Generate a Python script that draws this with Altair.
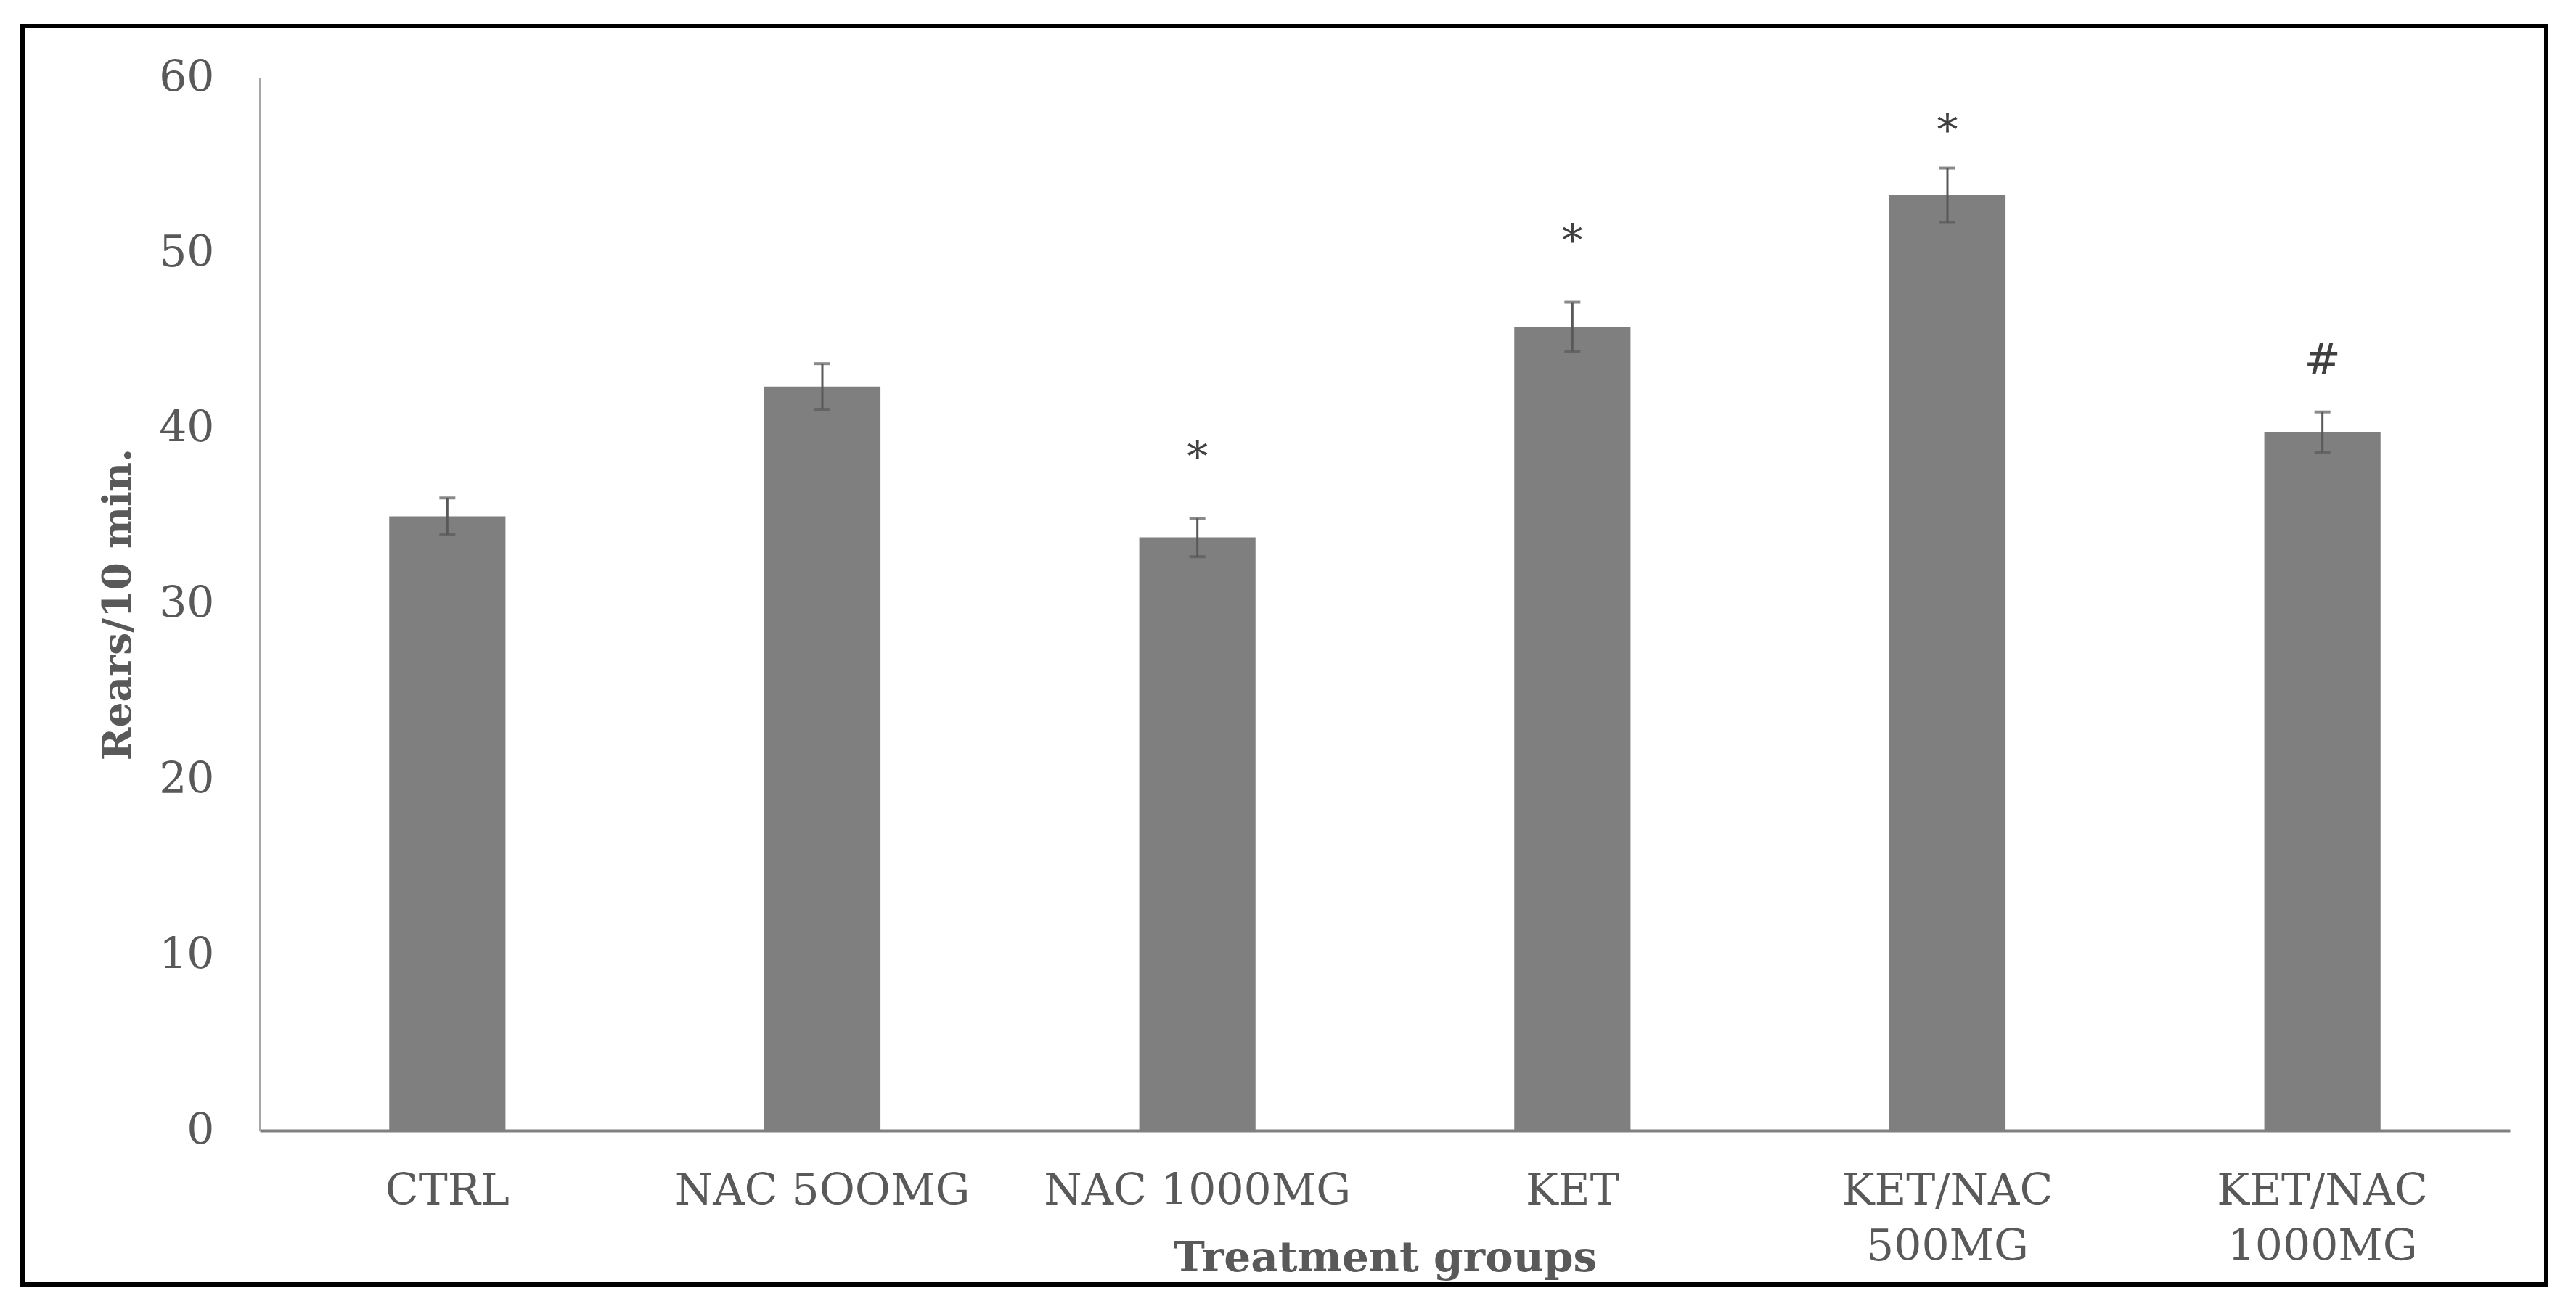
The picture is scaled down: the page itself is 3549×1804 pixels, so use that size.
import altair as alt
import pandas as pd

groups = ["CTRL", "NAC 5OOMG", "NAC 1000MG", "KET", "KET/NAC 500MG", "KET/NAC 1000MG"]
means = [35.0, 42.4, 33.8, 45.8, 53.3, 39.8]
errors = [1.05, 1.3, 1.1, 1.4, 1.55, 1.15]
sig_marks = ["", "", "*", "*", "*", "#"]
sig_pos = [None, None, 39.0, 51.3, 57.6, 44.0]
y_ticks = [0, 10, 20, 30, 40, 50, 60]

df = pd.DataFrame({"group": groups, "mean": means, "err": errors,
                   "sig": sig_marks, "sig_y": sig_pos})
df["lo"] = df["mean"] - df["err"]
df["hi"] = df["mean"] + df["err"]

W, H = 3100, 1451
FONT = "DejaVu Serif"
GRAY = "#595959"

xscale = alt.Scale(domain=groups, paddingInner=0.69, paddingOuter=0.345)
yscale = alt.Scale(domain=[0, 60], nice=False, zero=True)

x_axis = alt.Axis(
    title="Treatment groups", labelAngle=0, labelFont=FONT, labelFontSize=60,
    labelColor=GRAY, labelPadding=54, labelBaseline="top", labelLineHeight=77,
    labelLimit=2000, labelOverlap=False,
    labelExpr="indexof(datum.label, 'KET/NAC ') == 0 ? split(datum.label, ' ') : datum.label",
    ticks=False, tickSize=0, domainColor="#808080", domainWidth=4,
    titleFont=FONT, titleFontWeight="bold", titleFontSize=58, titleColor=GRAY,
    titleBaseline="alphabetic", titleY=193, titleX=W / 2, titleAlign="center",
)
y_axis = alt.Axis(
    title="Rears/10 min.", values=y_ticks, grid=False, ticks=False, tickSize=0,
    labelFont=FONT, labelFontSize=60, labelColor=GRAY, labelPadding=63,
    domainColor="#a6a6a6", domainWidth=3,
    titleFont=FONT, titleFontWeight="bold", titleFontSize=55, titleColor=GRAY,
    titleAngle=270, titleX=-196, titleY=H / 2, titleBaseline="middle", titleAlign="center",
)

base = alt.Chart(df)

bars = base.mark_bar(color="#7f7f7f").encode(
    x=alt.X("group:N", scale=xscale, axis=x_axis, sort=groups),
    y=alt.Y("mean:Q", scale=yscale, axis=y_axis),
)
err_rule = base.mark_rule(color=GRAY, strokeWidth=3).encode(
    x=alt.X("group:N", sort=groups), y="lo:Q", y2="hi:Q"
)
cap_lo = base.mark_tick(color=GRAY, thickness=4, size=22).encode(
    x=alt.X("group:N", sort=groups), y="lo:Q"
)
cap_hi = base.mark_tick(color=GRAY, thickness=4, size=22).encode(
    x=alt.X("group:N", sort=groups), y="hi:Q"
)
stars = base.transform_filter("datum.sig == '*'").mark_text(
    font=FONT, fontSize=58, color="#404040", baseline="alphabetic", dy=34
).encode(x=alt.X("group:N", sort=groups), y="sig_y:Q", text="sig:N")
hashes = base.transform_filter("datum.sig == '#'").mark_text(
    font=FONT, fontSize=60, color="#404040", baseline="alphabetic", dy=22
).encode(x=alt.X("group:N", sort=groups), y="sig_y:Q", text="sig:N")

border = alt.Chart(pd.DataFrame({"a": [0]})).mark_rect(
    filled=False, stroke="black", strokeWidth=6
).encode(x=alt.value(-327), x2=alt.value(3150), y=alt.value(-71), y2=alt.value(1663))

chart = alt.layer(bars, err_rule, cap_lo, cap_hi, stars, hashes, border).properties(
    width=W, height=H,
    background="white",
    autosize=alt.AutoSizeParams(type="none"),
    padding={"left": 350, "top": 99, "right": 83, "bottom": 238},
).configure_view(strokeWidth=0)

chart.save("out.html", embed_options={"renderer": "svg", "actions": False})
